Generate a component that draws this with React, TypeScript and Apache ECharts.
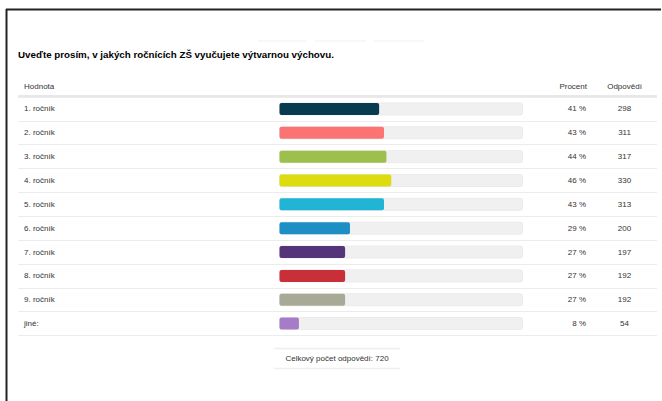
import React, { useEffect, useRef } from "react";
import * as echarts from "echarts";

const title = "Uveďte prosím, v jakých ročnících ZŠ vyučujete výtvarnou výchovu.";
const headers = ["Hodnota", "Procent", "Odpovědí"];
const categories = [
  "1. ročník",
  "2. ročník",
  "3. ročník",
  "4. ročník",
  "5. ročník",
  "6. ročník",
  "7. ročník",
  "8. ročník",
  "9. ročník",
  "jiné:",
];
const percents = [41, 43, 44, 46, 43, 29, 27, 27, 27, 8];
const counts = [298, 311, 317, 330, 313, 200, 197, 192, 192, 54];
const colors = [
  "#073b50",
  "#fb7373",
  "#9dbf4b",
  "#dcdc10",
  "#22b4d4",
  "#1e8fc5",
  "#55347a",
  "#c82f39",
  "#a9a998",
  "#a67cc8",
];
const totalLabel = "Celkový počet odpovědí: 720";

const FONT = "Arial, 'Liberation Sans', sans-serif";

export default function App() {
  const ref = useRef<HTMLDivElement>(null);
  useEffect(() => {
    if (!ref.current) return;
    const chart = echarts.init(ref.current, undefined, { renderer: "svg" });
    const gridTop = 97;
    const gridHeight = 238.5;
    const label = { color: "#333", fontSize: 8, fontFamily: FONT };
    chart.setOption({
      animation: false,
      backgroundColor: "#fff",
      grid: [
        { left: 18, width: 639, top: gridTop, height: gridHeight },
        { left: 279.5, width: 243, top: gridTop, height: gridHeight },
      ],
      xAxis: [
        { gridIndex: 0, type: "value", min: 0, max: 100, show: false },
        { gridIndex: 1, type: "value", min: 0, max: 100, show: false },
      ],
      yAxis: [
        {
          gridIndex: 0,
          type: "category",
          data: categories,
          inverse: true,
          position: "left",
          axisLine: { show: false },
          axisTick: { show: false },
          axisLabel: { ...label, inside: true, margin: 6 },
          splitLine: { show: true, lineStyle: { color: "#ececec", width: 1 } },
        },
        {
          gridIndex: 0,
          type: "category",
          data: percents.map((p) => p + " %"),
          inverse: true,
          position: "right",
          offset: -71,
          axisLine: { show: false },
          axisTick: { show: false },
          axisLabel: { ...label, inside: true, margin: 0 },
          splitLine: { show: false },
        },
        {
          gridIndex: 0,
          type: "category",
          data: counts.map((c) => String(c)),
          inverse: true,
          position: "right",
          offset: -32.5,
          axisLine: { show: false },
          axisTick: { show: false },
          axisLabel: { ...label, align: "center", margin: 0 },
          splitLine: { show: false },
        },
        {
          gridIndex: 1,
          type: "category",
          data: categories,
          inverse: true,
          show: false,
        },
      ],
      series: [
        {
          type: "bar",
          xAxisIndex: 1,
          yAxisIndex: 3,
          barWidth: 12,
          showBackground: true,
          backgroundStyle: {
            color: "#f0f0f0",
            borderColor: "#ebebeb",
            borderWidth: 1,
            borderRadius: 2,
          },
          itemStyle: { borderRadius: 2 },
          data: percents.map((v, i) => ({ value: v, itemStyle: { color: colors[i] } })),
        },
      ],
      graphic: [
        // frame
        { type: "line", shape: { x1: 6, y1: 9.5, x2: 661, y2: 9.5 }, style: { stroke: "#222", lineWidth: 2 } },
        { type: "line", shape: { x1: 6.5, y1: 9, x2: 6.5, y2: 401 }, style: { stroke: "#222", lineWidth: 2 } },
        // faint top decorations
        { type: "line", shape: { x1: 258, y1: 41, x2: 307, y2: 41 }, style: { stroke: "#f8f8f8", lineWidth: 2 } },
        { type: "line", shape: { x1: 315, y1: 41, x2: 366, y2: 41 }, style: { stroke: "#f8f8f8", lineWidth: 2 } },
        { type: "line", shape: { x1: 373, y1: 41, x2: 424, y2: 41 }, style: { stroke: "#f8f8f8", lineWidth: 2 } },
        // title
        {
          type: "text",
          x: 18,
          y: 54.5,
          style: { text: title, fill: "#000", fontSize: 9.75, fontWeight: "bold", fontFamily: FONT, align: "left", verticalAlign: "middle" },
        },
        // headers
        { type: "text", x: 24, y: 86, style: { text: headers[0], fill: "#333", fontSize: 8, fontFamily: FONT, align: "left", verticalAlign: "middle" } },
        { type: "text", x: 587, y: 86, style: { text: headers[1], fill: "#333", fontSize: 8, fontFamily: FONT, align: "right", verticalAlign: "middle" } },
        { type: "text", x: 624.5, y: 86, style: { text: headers[2], fill: "#333", fontSize: 8, fontFamily: FONT, align: "center", verticalAlign: "middle" } },
        { type: "line", shape: { x1: 18, y1: 96, x2: 657, y2: 96 }, style: { stroke: "#e8e8e8", lineWidth: 2 } },
        // footer
        { type: "line", shape: { x1: 274, y1: 348.5, x2: 400, y2: 348.5 }, style: { stroke: "#efefef", lineWidth: 1.5 } },
        { type: "line", shape: { x1: 274, y1: 368.5, x2: 400, y2: 368.5 }, style: { stroke: "#efefef", lineWidth: 1.5 } },
        { type: "text", x: 337, y: 358, style: { text: totalLabel, fill: "#333", fontSize: 8, fontFamily: FONT, align: "center", verticalAlign: "middle" } },
      ],
    });
    return () => chart.dispose();
  }, []);
  return (
    <div
      ref={ref}
      style={{ position: "fixed", left: 0, top: 0, width: 662, height: 401, background: "#fff" }}
    />
  );
}
